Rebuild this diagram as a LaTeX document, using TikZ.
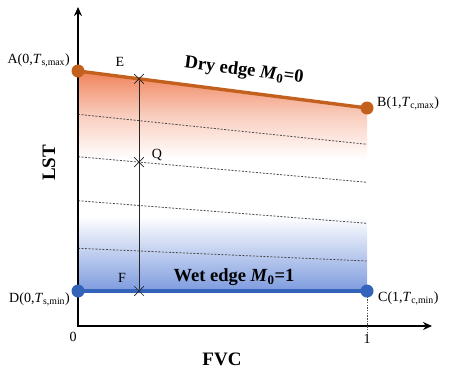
\documentclass[tikz,border=0pt]{standalone}
\usepackage{fontspec}
\setmainfont{Liberation Serif}
\usetikzlibrary{arrows.meta,shapes.misc}
\definecolor{dryline}{RGB}{196,96,30}
\definecolor{dryfill}{RGB}{240,130,90}
\definecolor{wetline}{RGB}{52,100,185}
\definecolor{wetfill}{RGB}{125,155,222}
\colorlet{wetmid}{wetfill!35!white}
\colorlet{drymid}{dryfill!40!white}
\pgfdeclareverticalshading{drywet}{100bp}{color(0bp)=(wetfill); color(25bp)=(wetfill); color(36bp)=(wetmid); color(42bp)=(white); color(55bp)=(white); color(65bp)=(drymid); color(75bp)=(dryfill); color(100bp)=(dryfill)}
\tikzset{
  lbl/.style={font=\fontsize{14}{16}\selectfont, inner sep=1pt},
  edgetxt/.style={font=\fontsize{18.5}{21}\selectfont\bfseries, inner sep=1pt},
  axlbl/.style={font=\fontsize{19}{21}\selectfont\bfseries, inner sep=1pt},
  guide/.style={line width=0.8pt, gray!60!black, dash pattern=on 2pt off 1.5pt},
  crossmark/.style={cross out, draw=gray!30!black, line width=0.7pt, minimum size=9pt, inner sep=0pt},
  endpt/.style={circle, minimum size=13pt, inner sep=0pt},
  axisline/.style={line width=1.6pt, black}
}
\begin{document}
\begin{tikzpicture}[x=1pt,y=-1pt]
\useasboundingbox (0,0) rectangle (470,383);
% corner points
\coordinate (a) at (78,71);
\coordinate (b) at (367,108);
\coordinate (c) at (367,291);
\coordinate (d) at (78,291);
% shaded region
\shade[shading=drywet] (a) -- (b) -- (c) -- (d) -- cycle;
% guide lines
\coordinate (l1s) at (78,114.3); \coordinate (l1e) at (367,144.3);
\coordinate (l2s) at (78,156.7); \coordinate (l2e) at (367,182.3);
\coordinate (l3s) at (78,200.7); \coordinate (l3e) at (367,223.3);
\coordinate (l4s) at (78,248.3); \coordinate (l4e) at (367,261);
\draw[guide] (l1s) -- (l1e);
\draw[guide] (l2s) -- (l2e);
\draw[guide] (l3s) -- (l3e);
\draw[guide] (l4s) -- (l4e);
% axes
\coordinate (o) at (78,326);
\coordinate (ytip) at (78,7);
\coordinate (xtip) at (432,326);
\coordinate (ctick) at (367,332);
\draw[axisline, {Stealth[length=9pt,width=8pt]}-{Stealth[length=9pt,width=8pt]}] (ytip) -- (o) -- (xtip);
\draw[line width=0.8pt, gray!60!black, dash pattern=on 1.5pt off 1.2pt] (c) -- (ctick);
% vertical section E-F
\coordinate (e) at (139,78.8);
\coordinate (q) at (139,162.1);
\coordinate (f) at (139,291);
\draw[line width=0.8pt, gray!30!black] (e) -- (f);
% edges
\draw[line width=3.4pt, dryline] (a) -- (b);
\draw[line width=3.4pt, wetline] (d) -- (c);
\node[crossmark] (E) at (e) {};
\node[crossmark] (Q) at (q) {};
\node[crossmark] (F) at (f) {};
\node[endpt, fill=dryline] (A) at (a) {};
\node[endpt, fill=dryline] (B) at (b) {};
\node[endpt, fill=wetline] (C) at (c) {};
\node[endpt, fill=wetline] (D) at (d) {};
% labels
\node[lbl, anchor=east] (Alab) at (71,60) {A(0,\textit{T}\textsubscript{s,max})};
\node[lbl, anchor=west] (Blab) at (376,103) {B(1,\textit{T}\textsubscript{c,max})};
\node[lbl, anchor=west] (Clab) at (377,298) {C(1,\textit{T}\textsubscript{c,min})};
\node[lbl, anchor=east] (Dlab) at (71,299) {D(0,\textit{T}\textsubscript{s,min})};
\node[lbl] (Elab) at (120,62) {E};
\node[lbl] (Flab) at (122,278) {F};
\node[lbl] (Qlab) at (157,155) {Q};
\node[lbl] (zero) at (73,337) {0};
\node[lbl] (one) at (367,339) {1};
\node[edgetxt, rotate=-7.3] (dry) at (244,71) {Dry edge \textit{M}\textsubscript{0}=0};
\node[edgetxt] (wet) at (234,277) {Wet edge \textit{M}\textsubscript{0}=1};
\node[axlbl] (fvc) at (222,359) {FVC};
\node[axlbl, rotate=90] (lst) at (49,163) {LST};
\end{tikzpicture}
\end{document}
